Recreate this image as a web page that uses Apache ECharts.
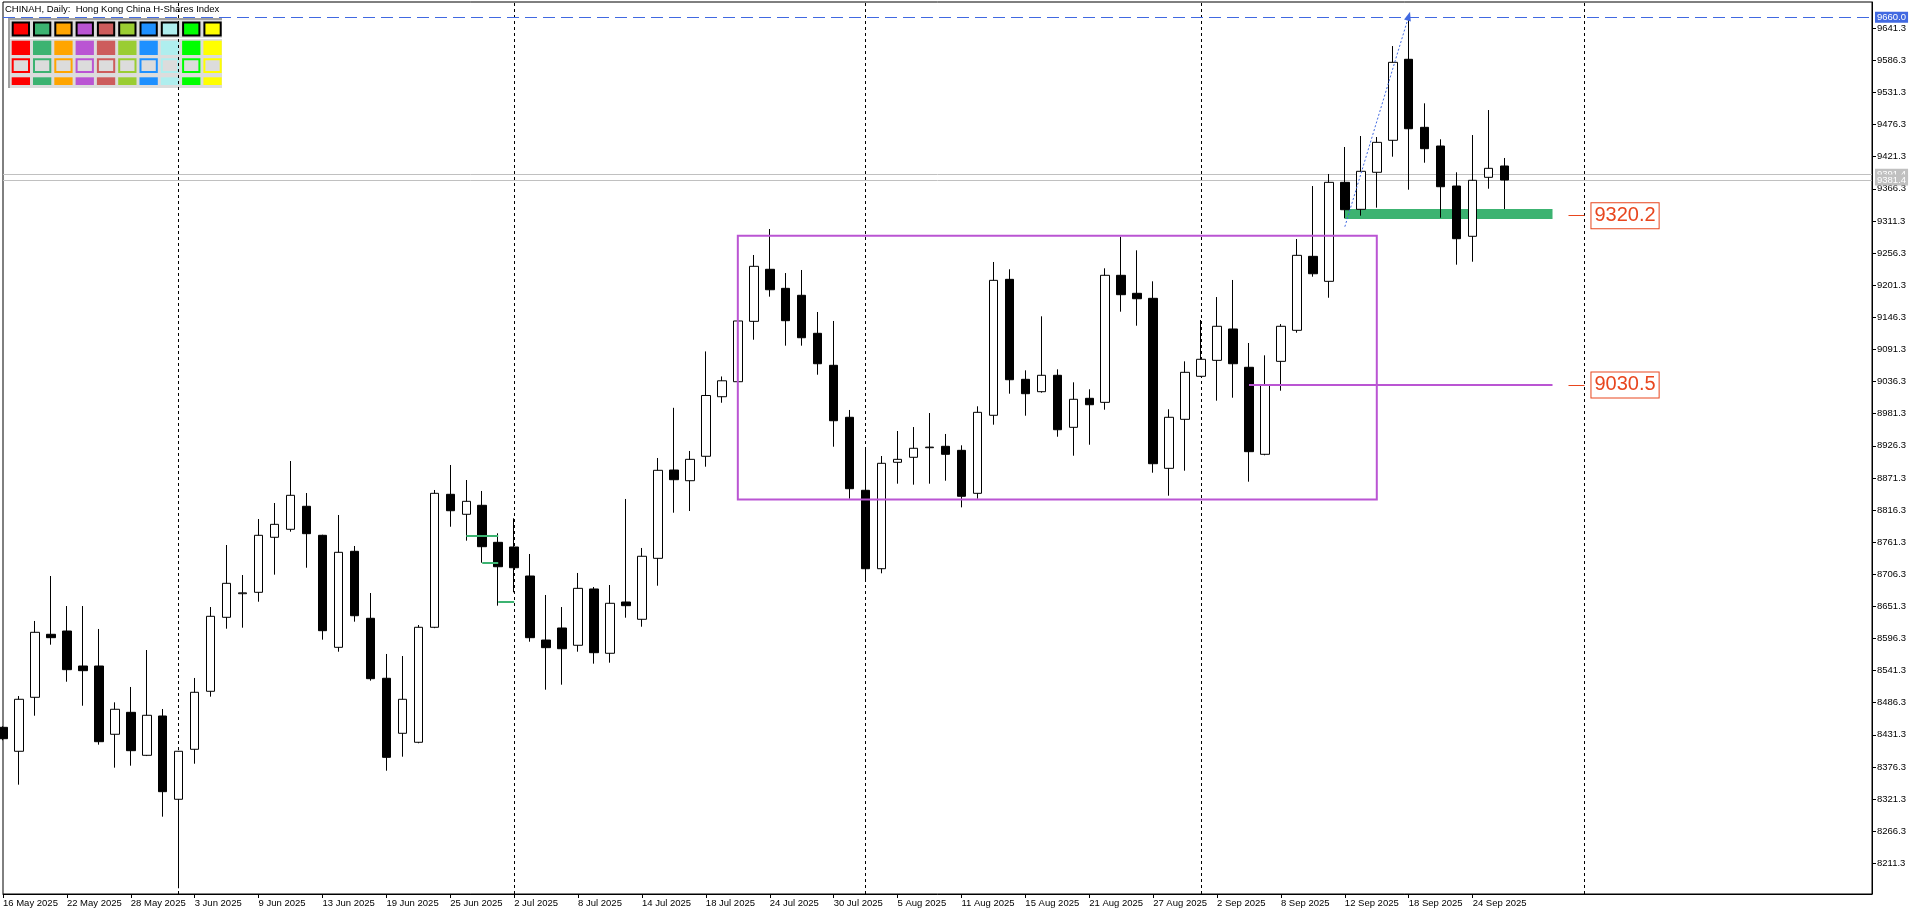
<!DOCTYPE html>
<html>
<head>
<meta charset="utf-8">
<title>CHINAH, Daily</title>
<script src="https://cdn.jsdelivr.net/npm/echarts@6/dist/echarts.min.js"></script>
<style>
html, body { margin: 0; padding: 0; background: #fff; }
#chart { width: 1920px; height: 915px; }
</style>
</head>
<body>
<div id="chart"></div>
<script>
// daily bars, 16 May 2025 .. 26 Sep 2025
const dates = ['16 May 2025','19 May 2025','20 May 2025','21 May 2025','22 May 2025','23 May 2025','26 May 2025','27 May 2025','28 May 2025','29 May 2025','30 May 2025',
  '2 Jun 2025','3 Jun 2025','4 Jun 2025','5 Jun 2025','6 Jun 2025','9 Jun 2025','10 Jun 2025','11 Jun 2025','12 Jun 2025','13 Jun 2025','16 Jun 2025','17 Jun 2025','18 Jun 2025','19 Jun 2025','20 Jun 2025','23 Jun 2025','24 Jun 2025','25 Jun 2025','26 Jun 2025','27 Jun 2025','30 Jun 2025',
  '2 Jul 2025','3 Jul 2025','4 Jul 2025','7 Jul 2025','8 Jul 2025','9 Jul 2025','10 Jul 2025','11 Jul 2025','14 Jul 2025','15 Jul 2025','16 Jul 2025','17 Jul 2025','18 Jul 2025','21 Jul 2025','22 Jul 2025','23 Jul 2025','24 Jul 2025','25 Jul 2025','28 Jul 2025','29 Jul 2025','30 Jul 2025','31 Jul 2025',
  '1 Aug 2025','4 Aug 2025','5 Aug 2025','6 Aug 2025','7 Aug 2025','8 Aug 2025','11 Aug 2025','12 Aug 2025','13 Aug 2025','14 Aug 2025','15 Aug 2025','18 Aug 2025','19 Aug 2025','20 Aug 2025','21 Aug 2025','22 Aug 2025','25 Aug 2025','26 Aug 2025','27 Aug 2025','28 Aug 2025','29 Aug 2025',
  '1 Sep 2025','2 Sep 2025','3 Sep 2025','4 Sep 2025','5 Sep 2025','8 Sep 2025','9 Sep 2025','10 Sep 2025','11 Sep 2025','12 Sep 2025','15 Sep 2025','16 Sep 2025','17 Sep 2025','18 Sep 2025','19 Sep 2025','22 Sep 2025','23 Sep 2025','24 Sep 2025','25 Sep 2025','26 Sep 2025'];

const opens = [8444.2,8403.2,8495.6,8603.5,8609.1,8549.2,8549.2,8432.3,8469.9,8396.3,8463.6,
  8321.0,8406.6,8505.9,8632.6,8673.0,8675.4,8769.6,8783.3,8822.7,8773.0,8581.2,8745.6,8630.9,8528.2,8434.0,8418.6,8615.5,8843.2,8809.0,8824.4,8761.0,
  8753.0,8703.3,8593.7,8614.3,8584.7,8681.1,8571.0,8658.8,8629.2,8733.6,8884.8,8866.5,8908.3,9010.3,9036.0,9139.4,9228.5,9195.9,9184.0,9118.9,9064.1,8975.1,
  8850.1,8715.8,8898.0,8906.6,8923.0,8925.4,8918.5,8844.9,8978.5,9211.3,9040.1,9018.9,9047.0,8957.9,9007.6,9000.7,9218.2,9187.4,9178.8,8887.7,8971.6,
  9045.3,9072.6,9126.3,9060.7,8911.7,9070.9,9124.0,9250.7,9207.9,9377.4,9331.2,9394.6,9449.4,9588.1,9471.6,9439.6,9371.1,9285.0,9386.0,9405.4];
const highs = [8446.0,8497.8,8626.3,8703.3,8651.9,8651.9,8612.6,8487.0,8513.3,8576.6,8475.6,
  8404.0,8528.7,8650.2,8756.4,8705.0,8800.9,8828.3,8900.2,8845.4,8774.0,8807.8,8754.7,8674.2,8569.8,8566.3,8619.4,8850.6,8893.4,8867.7,8848.9,8776.4,
  8802.1,8741.0,8670.8,8650.2,8708.5,8684.5,8687.9,8835.2,8751.3,8905.4,8991.3,8917.4,9087.9,9045.0,9145.1,9253.0,9297.5,9222.1,9227.3,9155.4,9140.0,8987.6,
  8919.1,8908.8,8951.6,8958.4,8982.4,8946.5,8927.1,8993.9,9241.0,9228.5,9055.5,9148.0,9057.2,9035.0,9023.0,9230.2,9284.3,9261.0,9207.9,8988.8,9070.9,
  9141.7,9181.0,9210.2,9102.3,9081.2,9134.8,9280.4,9371.1,9391.7,9437.9,9456.7,9455.0,9610.8,9660.0,9512.7,9451.1,9394.6,9458.4,9501.2,9419.1];
const lows = [8422.0,8346.0,8464.1,8585.7,8522.3,8481.2,8414.5,8375.1,8378.5,8395.0,8291.2,
  8168.6,8381.9,8496.7,8613.1,8614.8,8659.3,8705.6,8779.2,8717.5,8594.3,8573.7,8625.1,8524.1,8369.9,8393.9,8416.9,8614.0,8787.7,8763.8,8726.1,8652.5,
  8675.4,8590.8,8508.6,8517.2,8573.7,8553.2,8554.9,8631.9,8616.5,8686.7,8811.7,8814.6,8890.5,9000.0,9030.4,9107.9,9181.6,9097.7,9097.7,9048.0,8924.7,8835.7,
  8695.3,8707.9,8861.4,8859.7,8861.4,8866.5,8820.9,8835.7,8962.4,9015.5,8977.8,9017.2,8941.8,8909.3,8928.1,8988.1,9155.9,9131.9,8880.2,8840.8,8883.6,
  9044.0,9003.5,9008.6,8864.8,8910.0,9020.6,9119.9,9215.8,9179.8,9315.8,9320.3,9334.0,9421.3,9364.8,9411.0,9316.8,9236.4,9241.5,9366.5,9331.7];
const closes = [8424.7,8492.2,8606.9,8597.7,8542.9,8541.2,8419.6,8475.1,8404.2,8464.8,8334.0,
  8403.2,8504.2,8634.3,8690.8,8674.5,8773.0,8791.8,8841.5,8775.8,8609.7,8743.9,8635.3,8527.5,8392.8,8492.2,8615.5,8844.9,8815.1,8831.2,8753.5,8719.2,
  8717.5,8597.7,8580.6,8578.8,8682.2,8572.0,8656.6,8652.5,8737.1,8884.3,8868.2,8903.1,9012.4,9037.6,9140.0,9233.6,9193.5,9140.5,9111.3,9066.8,8969.2,8852.8,
  8715.8,8896.3,8903.1,8922.0,8924.0,8911.7,8839.8,8983.6,9209.6,9039.4,9015.5,9047.0,8953.8,9005.9,8996.6,9218.2,9185.0,9178.1,8895.6,8975.1,9052.1,
  9074.4,9130.9,9066.8,8916.2,9030.4,9130.9,9252.4,9220.9,9377.4,9330.5,9396.3,9445.9,9582.9,9469.2,9435.0,9369.9,9280.9,9380.9,9401.4,9381.4];

const priceTicks = [9641.3,9586.3,9531.3,9476.3,9421.3,9366.3,9311.3,9256.3,9201.3,9146.3,9091.3,9036.3,8981.3,
  8926.3,8871.3,8816.3,8761.3,8706.3,8651.3,8596.3,8541.3,8486.3,8431.3,8376.3,8321.3,8266.3,8211.3];

const futureBars = 23;
const monthStarts = [11, 32, 54, 75, 99];
const rangeBox = [46, 86, 9286.0, 8834.3];      // from bar, to bar, top, bottom
const supportZone = [84, 97, 9331.7, 9314.6];
const supportLevel = 9320.2;
const midLevel = [78, 97, 9030.5];
const swingArrow = [84, 9301.4, 88, 9662.0];
const highLevel = 9660.0;
const bidPrice = 9381.4;
const askPrice = 9391.4;
const greenSteps = [[29, 31, 8771.8], [30, 31, 8726.1], [31, 32, 8659.3]];

const palette = ['#FF0000','#3CB371','#FFA500','#BA55D3','#CD5C5C','#9ACD32','#1E90FF','#AFEEEE','#00FF00','#FFFF00'];

const FONT = 'Liberation Sans, Arial, sans-serif';
const categories = dates.concat(Array.from({length: futureBars}, (_, k) => 'f' + k));
const candles = dates.map((d, i) => [opens[i], closes[i], lows[i], highs[i]]);

function axisTag(value, bg) {
  return {
    show: true, position: 'end', distance: 3,
    formatter: value.toFixed(1), color: '#fff', backgroundColor: bg,
    padding: [1, 2, 0, 2], fontSize: 9.5, fontFamily: FONT
  };
}
function boxTag(value) {
  return {
    show: true, position: 'end', distance: 7,
    formatter: value.toFixed(1), color: '#E8461E', backgroundColor: '#fff',
    borderColor: '#E8461E', borderWidth: 1, padding: [3, 3, 2, 3],
    fontSize: 20, lineHeight: 20, fontFamily: FONT
  };
}

// palette panel top-left
const panel = [
  { type: 'rect', shape: { x: 8, y: 18, width: 214, height: 70 }, style: { fill: '#DCDCDC' } },
  { type: 'rect', shape: { x: 8, y: 18, width: 2, height: 70 }, style: { fill: '#A0A0A0' } },
  { type: 'rect', shape: { x: 8, y: 18, width: 214, height: 2 }, style: { fill: '#A0A0A0' } },
  { type: 'rect', shape: { x: 10, y: 38, width: 212, height: 1 }, style: { fill: '#fff' } }
];
palette.forEach((c, k) => {
  const x = 11.7 + 21.3 * k;
  panel.push({ type: 'rect', shape: { x: x + 1, y: 22.5, width: 16.3, height: 13 }, style: { fill: c, stroke: '#000', lineWidth: 2 } });
  panel.push({ type: 'rect', shape: { x: x, y: 40.7, width: 18.3, height: 14.3 }, style: { fill: c } });
  panel.push({ type: 'rect', shape: { x: x + 1, y: 59.3, width: 16.3, height: 12.7 }, style: { fill: '#DCDCDC', stroke: c, lineWidth: 2 } });
  panel.push({ type: 'rect', shape: { x: x, y: 77.3, width: 18.3, height: 7.7 }, style: { fill: c } });
});

const chart = echarts.init(document.getElementById('chart'));
const option = {
  animation: false,
  backgroundColor: '#fff',
  grid: { left: 2.5, top: 2, right: 48, bottom: 21, show: true, borderColor: '#000', borderWidth: 1, backgroundColor: '#fff' },
  graphic: [
    { type: 'text', x: 5, y: 4, z: 10,
      style: { text: 'CHINAH, Daily:  Hong Kong China H-Shares Index', font: '9.5px ' + FONT, fill: '#000' } },
    { type: 'group', x: 0, y: 0, z: 10, children: panel }
  ],
  xAxis: {
    type: 'category',
    data: categories,
    boundaryGap: false,
    axisLine: { lineStyle: { color: '#000', width: 1 } },
    axisTick: { length: 4, lineStyle: { color: '#000' }, interval: (i) => i % 4 === 0 && i < dates.length },
    axisLabel: {
      interval: (i) => i % 4 === 0 && i < dates.length,
      align: 'left', margin: 4, color: '#000', fontSize: 9.5, fontFamily: FONT
    },
    splitLine: { show: false }
  },
  yAxis: {
    type: 'value',
    position: 'right',
    min: 8158.8,
    max: 9686.2,
    axisLine: { show: true, lineStyle: { color: '#000', width: 1 } },
    axisTick: { show: true, length: 4, lineStyle: { color: '#000' }, customValues: priceTicks },
    axisLabel: { customValues: priceTicks, formatter: (v) => v.toFixed(1), margin: 5, color: '#000', fontSize: 9.5, fontFamily: FONT },
    splitLine: { show: false }
  },
  series: [
    {
      // background objects: separators, bid/ask, support zone
      name: 'bg', type: 'line', data: [], z: 1, silent: true,
      markLine: {
        z: 1, silent: true, symbol: ['none', 'none'],
        data: monthStarts.map((i) => ({ xAxis: i, lineStyle: { color: '#000', type: [3, 3], width: 1 }, label: { show: false } }))
          .concat([
            { yAxis: askPrice, lineStyle: { color: '#C0C0C0', type: 'solid', width: 1 }, label: axisTag(askPrice, '#C0C0C0') },
            { yAxis: bidPrice, lineStyle: { color: '#C0C0C0', type: 'solid', width: 1 }, label: axisTag(bidPrice, '#C0C0C0') }
          ])
      },
      markArea: {
        z: 1, silent: true,
        data: [[
          { coord: [supportZone[0], supportZone[2]], itemStyle: { color: '#3CB371' } },
          { coord: [supportZone[1], supportZone[3]] }
        ]]
      }
    },
    {
      name: 'CHINAH', type: 'candlestick', data: candles, z: 2, clip: true,
      barWidth: 9,
      itemStyle: { color: '#fff', color0: '#000', borderColor: '#000', borderColor0: '#000', borderColorDoji: '#000', borderWidth: 1 }
    },
    {
      // foreground objects
      name: 'fg', type: 'line', data: [], z: 3, silent: true,
      markArea: {
        z: 4, silent: true,
        data: [[
          { coord: [rangeBox[0], rangeBox[2]], itemStyle: { color: 'rgba(0,0,0,0)', borderColor: '#BA55D3', borderWidth: 2 } },
          { coord: [rangeBox[1], rangeBox[3]] }
        ]]
      },
      markLine: {
        z: 5, silent: true, symbol: ['none', 'none'],
        data: [
          { yAxis: highLevel, lineStyle: { color: '#4169E1', type: [12, 6], width: 1 }, label: axisTag(highLevel, '#4169E1') },
          [
            { coord: [midLevel[0], midLevel[2]], lineStyle: { color: '#BA55D3', type: 'solid', width: 2 }, label: { show: false } },
            { coord: [midLevel[1], midLevel[2]] }
          ],
          [
            { coord: [swingArrow[0], swingArrow[1]], symbol: 'none', lineStyle: { color: '#4169E1', type: [2, 2], width: 1 }, label: { show: false } },
            { coord: [swingArrow[2], swingArrow[3]], symbol: 'triangle', symbolSize: [7, 9] }
          ],
          [
            { coord: [98, supportLevel], lineStyle: { color: '#E8461E', type: 'solid', width: 1 }, label: boxTag(supportLevel) },
            { coord: [99, supportLevel] }
          ],
          [
            { coord: [98, midLevel[2]], lineStyle: { color: '#E8461E', type: 'solid', width: 1 }, label: boxTag(midLevel[2]) },
            { coord: [99, midLevel[2]] }
          ]
        ].concat(greenSteps.map((s) => [
          { coord: [s[0], s[2]], lineStyle: { color: '#3CB371', type: 'solid', width: 2 }, label: { show: false } },
          { coord: [s[1], s[2]] }
        ]))
      }
    }
  ]
};
chart.setOption(option);
</script>
</body>
</html>
